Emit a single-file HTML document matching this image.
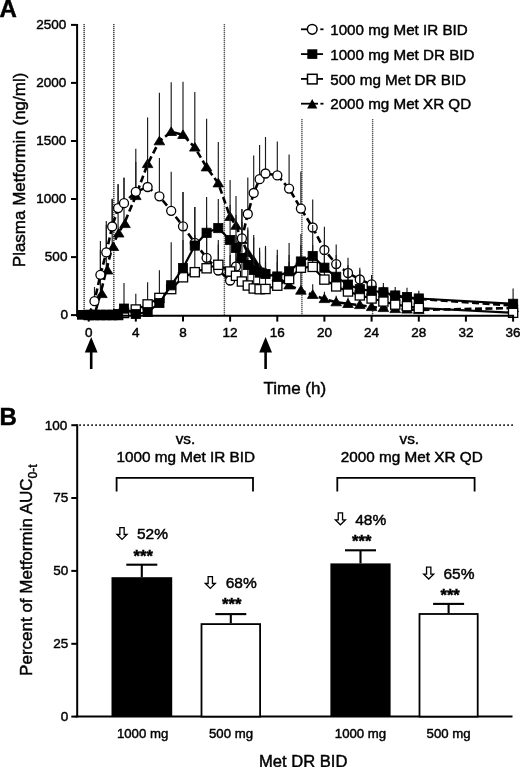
<!DOCTYPE html>
<html><head><meta charset="utf-8"><style>
html,body{margin:0;padding:0;background:#fff;}
body{width:520px;height:767px;overflow:hidden;position:relative;font-family:"Liberation Sans",sans-serif;}
svg{position:absolute;left:0;top:0;will-change:transform;}
text{font-family:"Liberation Sans",sans-serif;fill:#000;stroke:#000;stroke-width:0.45px;}
.ax{stroke:#000;stroke-width:2;fill:none;}
.eb{stroke:#1a1a1a;stroke-width:1.15;fill:none;}
.ebb{stroke:#000;stroke-width:2.1;fill:none;}
.dv{stroke:#3a3a3a;stroke-width:1.4;stroke-dasharray:1 1;fill:none;}
.dvb{stroke:#c4c4c4;stroke-width:1.2;fill:none;}
.dh{stroke:#2a2a2a;stroke-width:1.8;stroke-dasharray:1.8 2.2;fill:none;}
.ls{stroke:#000;stroke-width:2.2;fill:none;stroke-linejoin:round;}
.ld{stroke:#000;stroke-width:2.6;fill:none;stroke-dasharray:7 3.5;}
.mo{fill:#fff;stroke:#000;stroke-width:1.3;}
.mf{fill:#000;stroke:#000;stroke-width:0.8;}
.lgl{stroke:#000;stroke-width:1.8;}
.tl{font-size:13.5px;}
.tlb{font-size:13.5px;}
.lg{font-size:15.2px;}
.pct{font-size:15.5px;}
.ast{font-size:16.5px;font-weight:bold;}
.vs{font-size:15.3px;}
.bl{font-size:13.2px;}
.at{font-size:16.6px;}
.lab{font-size:24px;font-weight:bold;}
.yt{font-size:17px;}
</style></head><body>
<svg width="520" height="767" viewBox="0 0 520 767">
<text x="-0.6" y="16.7" class="lab">A</text>
<text x="-0.6" y="425.4" class="lab">B</text>
<text transform="translate(24.6,267.2) rotate(-90)" class="yt">Plasma Metformin (ng/ml)</text>
<text transform="translate(32.4,675.9) rotate(-90)" class="yt">Percent of Metformin AUC<tspan font-size="12" dy="5">0-t</tspan></text>
<text x="263.5" y="393.8" class="at" style="font-size:17px">Time (h)</text>
<line x1="84.15" y1="24" x2="84.15" y2="315" class="dvb"/>
<line x1="84.15" y1="24" x2="84.15" y2="315" class="dv"/>
<line x1="113.8" y1="24" x2="113.8" y2="315" class="dvb"/>
<line x1="113.8" y1="24" x2="113.8" y2="315" class="dv"/>
<line x1="224.4" y1="24" x2="224.4" y2="315" class="dvb"/>
<line x1="224.4" y1="24" x2="224.4" y2="315" class="dv" style="stroke:#5a5a5a"/>
<line x1="301.9" y1="119" x2="301.9" y2="315" class="dvb"/>
<line x1="301.9" y1="119" x2="301.9" y2="315" class="dv" style="stroke:#5a5a5a"/>
<line x1="372.6" y1="119" x2="372.6" y2="315" class="dvb"/>
<line x1="372.6" y1="119" x2="372.6" y2="315" class="dv" style="stroke:#5a5a5a"/>
<line x1="100.4" y1="250.0" x2="100.4" y2="294.0" class="eb"/>
<line x1="106.3" y1="225.0" x2="106.3" y2="270.4" class="eb"/>
<line x1="112.2" y1="198.8" x2="112.2" y2="246.9" class="eb"/>
<line x1="118.1" y1="184.4" x2="118.1" y2="233.4" class="eb"/>
<line x1="124.0" y1="177.4" x2="124.0" y2="224.0" class="eb"/>
<line x1="135.8" y1="148.8" x2="135.8" y2="196.0" class="eb"/>
<line x1="147.6" y1="117.4" x2="147.6" y2="164.0" class="eb"/>
<line x1="159.4" y1="92.7" x2="159.4" y2="141.2" class="eb"/>
<line x1="171.2" y1="82.3" x2="171.2" y2="131.9" class="eb"/>
<line x1="183.0" y1="81.8" x2="183.0" y2="134.9" class="eb"/>
<line x1="194.8" y1="92.0" x2="194.8" y2="147.5" class="eb"/>
<line x1="206.6" y1="118.8" x2="206.6" y2="167.3" class="eb"/>
<line x1="218.3" y1="142.0" x2="218.3" y2="183.3" class="eb"/>
<line x1="230.1" y1="180.0" x2="230.1" y2="216.8" class="eb"/>
<line x1="236.0" y1="196.0" x2="236.0" y2="225.7" class="eb"/>
<line x1="241.9" y1="209.0" x2="241.9" y2="240.0" class="eb"/>
<line x1="247.8" y1="227.6" x2="247.8" y2="253.0" class="eb"/>
<line x1="253.7" y1="237.8" x2="253.7" y2="260.9" class="eb"/>
<line x1="259.6" y1="251.4" x2="259.6" y2="268.7" class="eb"/>
<line x1="265.5" y1="248.0" x2="265.5" y2="272.6" class="eb"/>
<line x1="277.3" y1="255.0" x2="277.3" y2="277.0" class="eb"/>
<line x1="289.1" y1="262.0" x2="289.1" y2="285.3" class="eb"/>
<line x1="300.9" y1="270.0" x2="300.9" y2="290.6" class="eb"/>
<line x1="312.7" y1="284.2" x2="312.7" y2="294.8" class="eb"/>
<line x1="324.4" y1="291.7" x2="324.4" y2="299.0" class="eb"/>
<line x1="336.2" y1="295.8" x2="336.2" y2="302.2" class="eb"/>
<line x1="348.0" y1="297.5" x2="348.0" y2="303.9" class="eb"/>
<line x1="359.8" y1="299.0" x2="359.8" y2="305.0" class="eb"/>
<line x1="371.6" y1="301.0" x2="371.6" y2="307.0" class="eb"/>
<line x1="383.4" y1="302.0" x2="383.4" y2="308.0" class="eb"/>
<line x1="395.2" y1="303.0" x2="395.2" y2="309.0" class="eb"/>
<polyline points="88.7,315.0 94.5,315.0 100.4,294.0 106.3,270.4 112.2,246.9 118.1,233.4 124.0,224.0 135.8,196.0 147.6,164.0 159.4,141.2 171.2,131.9 183.0,134.9 194.8,147.5 206.6,167.3 218.3,183.3 230.1,216.8 236.0,225.7 241.9,240.0 247.8,253.0 253.7,260.9 259.6,268.7 265.5,272.6 277.3,277.0 289.1,285.3 300.9,290.6 312.7,294.8 324.4,299.0 336.2,302.2 348.0,303.9 359.8,305.0 371.6,307.0 383.4,308.0 395.2,309.0 407.0,309.5 418.8,310.0 513.1,308.0" class="ld"/>
<path d="M88.7,310.0 L94.0,318.6 L83.4,318.6Z" class="mf"/>
<path d="M94.5,310.0 L99.8,318.6 L89.2,318.6Z" class="mf"/>
<path d="M101.9,289.0 L107.2,297.6 L96.6,297.6Z" class="mf"/>
<path d="M107.5,265.4 L112.8,274.0 L102.2,274.0Z" class="mf"/>
<path d="M113.4,241.9 L118.7,250.5 L108.1,250.5Z" class="mf"/>
<path d="M118.7,228.4 L124.0,237.0 L113.4,237.0Z" class="mf"/>
<path d="M125.0,219.0 L130.3,227.6 L119.7,227.6Z" class="mf"/>
<path d="M135.8,191.0 L141.1,199.6 L130.5,199.6Z" class="mf"/>
<path d="M147.6,159.0 L152.9,167.6 L142.3,167.6Z" class="mf"/>
<path d="M159.4,136.2 L164.7,144.8 L154.1,144.8Z" class="mf"/>
<path d="M171.2,126.9 L176.5,135.5 L165.9,135.5Z" class="mf"/>
<path d="M183.0,129.9 L188.3,138.5 L177.7,138.5Z" class="mf"/>
<path d="M194.8,142.5 L200.1,151.1 L189.5,151.1Z" class="mf"/>
<path d="M206.6,162.3 L211.9,170.9 L201.2,170.9Z" class="mf"/>
<path d="M218.3,178.3 L223.6,186.9 L213.0,186.9Z" class="mf"/>
<path d="M230.1,211.8 L235.4,220.4 L224.8,220.4Z" class="mf"/>
<path d="M236.0,220.7 L241.3,229.3 L230.7,229.3Z" class="mf"/>
<path d="M241.9,235.0 L247.2,243.6 L236.6,243.6Z" class="mf"/>
<path d="M247.8,248.0 L253.1,256.6 L242.5,256.6Z" class="mf"/>
<path d="M253.7,255.9 L259.0,264.5 L248.4,264.5Z" class="mf"/>
<path d="M259.6,263.7 L264.9,272.3 L254.3,272.3Z" class="mf"/>
<path d="M265.5,267.6 L270.8,276.2 L260.2,276.2Z" class="mf"/>
<path d="M277.3,272.0 L282.6,280.6 L272.0,280.6Z" class="mf"/>
<path d="M289.1,280.3 L294.4,288.9 L283.8,288.9Z" class="mf"/>
<path d="M300.9,285.6 L306.2,294.2 L295.6,294.2Z" class="mf"/>
<path d="M312.7,289.8 L318.0,298.4 L307.4,298.4Z" class="mf"/>
<path d="M324.4,294.0 L329.8,302.6 L319.1,302.6Z" class="mf"/>
<path d="M336.2,297.2 L341.5,305.8 L330.9,305.8Z" class="mf"/>
<path d="M348.0,298.9 L353.3,307.5 L342.7,307.5Z" class="mf"/>
<path d="M359.8,300.0 L365.1,308.6 L354.5,308.6Z" class="mf"/>
<path d="M371.6,302.0 L376.9,310.6 L366.3,310.6Z" class="mf"/>
<path d="M383.4,303.0 L388.7,311.6 L378.1,311.6Z" class="mf"/>
<path d="M395.2,304.0 L400.5,312.6 L389.9,312.6Z" class="mf"/>
<path d="M407.0,304.5 L412.3,313.1 L401.7,313.1Z" class="mf"/>
<path d="M418.8,305.0 L424.1,313.6 L413.5,313.6Z" class="mf"/>
<path d="M513.1,303.0 L518.4,311.6 L507.8,311.6Z" class="mf"/>
<line x1="94.5" y1="287.0" x2="94.5" y2="301.2" class="eb"/>
<line x1="100.4" y1="241.0" x2="100.4" y2="274.8" class="eb"/>
<line x1="106.3" y1="221.0" x2="106.3" y2="252.4" class="eb"/>
<line x1="112.2" y1="199.0" x2="112.2" y2="226.5" class="eb"/>
<line x1="118.1" y1="184.0" x2="118.1" y2="208.1" class="eb"/>
<line x1="124.0" y1="178.0" x2="124.0" y2="203.2" class="eb"/>
<line x1="135.8" y1="162.0" x2="135.8" y2="191.8" class="eb"/>
<line x1="147.6" y1="160.0" x2="147.6" y2="187.0" class="eb"/>
<line x1="159.4" y1="158.0" x2="159.4" y2="196.3" class="eb"/>
<line x1="171.2" y1="171.7" x2="171.2" y2="210.8" class="eb"/>
<line x1="183.0" y1="192.0" x2="183.0" y2="226.3" class="eb"/>
<line x1="194.8" y1="207.0" x2="194.8" y2="242.8" class="eb"/>
<line x1="206.6" y1="225.0" x2="206.6" y2="257.8" class="eb"/>
<line x1="218.3" y1="240.0" x2="218.3" y2="270.5" class="eb"/>
<line x1="230.1" y1="255.0" x2="230.1" y2="280.5" class="eb"/>
<line x1="236.0" y1="235.0" x2="236.0" y2="266.5" class="eb"/>
<line x1="241.9" y1="209.0" x2="241.9" y2="238.4" class="eb"/>
<line x1="247.8" y1="177.4" x2="247.8" y2="214.0" class="eb"/>
<line x1="253.7" y1="155.5" x2="253.7" y2="193.0" class="eb"/>
<line x1="259.6" y1="145.0" x2="259.6" y2="179.2" class="eb"/>
<line x1="265.5" y1="137.0" x2="265.5" y2="173.5" class="eb"/>
<line x1="277.3" y1="141.5" x2="277.3" y2="175.4" class="eb"/>
<line x1="289.1" y1="154.6" x2="289.1" y2="188.6" class="eb"/>
<line x1="300.9" y1="171.5" x2="300.9" y2="208.6" class="eb"/>
<line x1="312.7" y1="199.6" x2="312.7" y2="227.5" class="eb"/>
<line x1="324.4" y1="226.7" x2="324.4" y2="250.0" class="eb"/>
<line x1="336.2" y1="244.5" x2="336.2" y2="264.1" class="eb"/>
<line x1="348.0" y1="257.8" x2="348.0" y2="273.0" class="eb"/>
<line x1="359.8" y1="267.7" x2="359.8" y2="279.5" class="eb"/>
<line x1="371.6" y1="275.0" x2="371.6" y2="284.4" class="eb"/>
<polyline points="88.7,315.0 94.5,301.2 100.4,274.8 106.3,252.4 112.2,226.5 118.1,208.1 124.0,203.2 135.8,191.8 147.6,187.0 159.4,196.3 171.2,210.8 183.0,226.3 194.8,242.8 206.6,257.8 218.3,270.5 230.1,280.5 236.0,266.5 241.9,238.4 247.8,214.0 253.7,193.0 259.6,179.2 265.5,173.5 277.3,175.4 289.1,188.6 300.9,208.6 312.7,227.5 324.4,250.0 336.2,264.1 348.0,273.0 359.8,279.5 371.6,284.4 383.4,292.5 395.2,296.0 407.0,297.5 418.8,299.0 513.1,305.5" class="ld"/>
<circle cx="94.5" cy="301.2" r="4.5" class="mo"/>
<circle cx="100.4" cy="274.8" r="4.5" class="mo"/>
<circle cx="106.3" cy="252.4" r="4.5" class="mo"/>
<circle cx="112.2" cy="226.5" r="4.5" class="mo"/>
<circle cx="118.1" cy="208.1" r="4.5" class="mo"/>
<circle cx="124.0" cy="203.2" r="4.5" class="mo"/>
<circle cx="135.8" cy="191.8" r="4.5" class="mo"/>
<circle cx="147.6" cy="187.0" r="4.5" class="mo"/>
<circle cx="159.4" cy="196.3" r="4.5" class="mo"/>
<circle cx="171.2" cy="210.8" r="4.5" class="mo"/>
<circle cx="183.0" cy="226.3" r="4.5" class="mo"/>
<circle cx="194.8" cy="242.8" r="4.5" class="mo"/>
<circle cx="206.6" cy="257.8" r="4.5" class="mo"/>
<circle cx="218.3" cy="270.5" r="4.5" class="mo"/>
<circle cx="230.1" cy="280.5" r="4.5" class="mo"/>
<circle cx="236.0" cy="266.5" r="4.5" class="mo"/>
<circle cx="241.9" cy="238.4" r="4.5" class="mo"/>
<circle cx="247.8" cy="214.0" r="4.5" class="mo"/>
<circle cx="253.7" cy="193.0" r="4.5" class="mo"/>
<circle cx="259.6" cy="179.2" r="4.5" class="mo"/>
<circle cx="265.5" cy="173.5" r="4.5" class="mo"/>
<circle cx="277.3" cy="175.4" r="4.5" class="mo"/>
<circle cx="289.1" cy="188.6" r="4.5" class="mo"/>
<circle cx="300.9" cy="208.6" r="4.5" class="mo"/>
<circle cx="312.7" cy="227.5" r="4.5" class="mo"/>
<circle cx="324.4" cy="250.0" r="4.5" class="mo"/>
<circle cx="336.2" cy="264.1" r="4.5" class="mo"/>
<circle cx="348.0" cy="273.0" r="4.5" class="mo"/>
<circle cx="359.8" cy="279.5" r="4.5" class="mo"/>
<circle cx="371.6" cy="284.4" r="4.5" class="mo"/>
<circle cx="383.4" cy="292.5" r="4.5" class="mo"/>
<circle cx="395.2" cy="296.0" r="4.5" class="mo"/>
<circle cx="407.0" cy="297.5" r="4.5" class="mo"/>
<circle cx="418.8" cy="299.0" r="4.5" class="mo"/>
<circle cx="513.1" cy="305.5" r="4.5" class="mo"/>
<line x1="135.8" y1="293.7" x2="135.8" y2="309.5" class="eb"/>
<line x1="147.6" y1="282.3" x2="147.6" y2="304.4" class="eb"/>
<line x1="159.4" y1="270.2" x2="159.4" y2="297.9" class="eb"/>
<line x1="171.2" y1="242.2" x2="171.2" y2="289.1" class="eb"/>
<line x1="183.0" y1="240.0" x2="183.0" y2="277.3" class="eb"/>
<line x1="194.8" y1="235.0" x2="194.8" y2="272.2" class="eb"/>
<line x1="206.6" y1="230.0" x2="206.6" y2="268.3" class="eb"/>
<line x1="218.3" y1="244.5" x2="218.3" y2="264.8" class="eb"/>
<line x1="230.1" y1="245.0" x2="230.1" y2="271.5" class="eb"/>
<line x1="236.0" y1="250.0" x2="236.0" y2="275.8" class="eb"/>
<line x1="241.9" y1="255.0" x2="241.9" y2="281.5" class="eb"/>
<line x1="247.8" y1="258.0" x2="247.8" y2="285.5" class="eb"/>
<line x1="253.7" y1="262.0" x2="253.7" y2="288.5" class="eb"/>
<line x1="259.6" y1="262.0" x2="259.6" y2="289.2" class="eb"/>
<line x1="265.5" y1="262.0" x2="265.5" y2="289.0" class="eb"/>
<line x1="277.3" y1="262.0" x2="277.3" y2="285.7" class="eb"/>
<line x1="289.1" y1="255.0" x2="289.1" y2="279.1" class="eb"/>
<line x1="300.9" y1="245.0" x2="300.9" y2="267.7" class="eb"/>
<line x1="312.7" y1="245.0" x2="312.7" y2="266.9" class="eb"/>
<line x1="324.4" y1="255.0" x2="324.4" y2="279.6" class="eb"/>
<line x1="336.2" y1="262.0" x2="336.2" y2="286.4" class="eb"/>
<line x1="348.0" y1="270.0" x2="348.0" y2="291.5" class="eb"/>
<line x1="359.8" y1="276.0" x2="359.8" y2="295.4" class="eb"/>
<line x1="371.6" y1="281.0" x2="371.6" y2="298.5" class="eb"/>
<line x1="383.4" y1="286.0" x2="383.4" y2="301.5" class="eb"/>
<line x1="395.2" y1="290.0" x2="395.2" y2="304.6" class="eb"/>
<line x1="407.0" y1="293.0" x2="407.0" y2="306.2" class="eb"/>
<line x1="418.8" y1="295.0" x2="418.8" y2="308.0" class="eb"/>
<line x1="513.1" y1="300.0" x2="513.1" y2="312.8" class="eb"/>
<polyline points="88.7,315.0 94.5,315.0 100.4,315.0 106.3,315.0 112.2,315.0 118.1,315.0 124.0,313.0 135.8,309.5 147.6,304.4 159.4,297.9 171.2,289.1 183.0,277.3 194.8,272.2 206.6,268.3 218.3,264.8 230.1,271.5 236.0,275.8 241.9,281.5 247.8,285.5 253.7,288.5 259.6,289.2 265.5,289.0 277.3,285.7 289.1,279.1 300.9,267.7 312.7,266.9 324.4,279.6 336.2,286.4 348.0,291.5 359.8,295.4 371.6,298.5 383.4,301.5 395.2,304.6 407.0,306.2 418.8,308.0 513.1,312.8" class="ls"/>
<rect x="84.1" y="310.4" width="9.2" height="9.2" class="mo"/>
<rect x="89.9" y="310.4" width="9.2" height="9.2" class="mo"/>
<rect x="95.8" y="310.4" width="9.2" height="9.2" class="mo"/>
<rect x="101.7" y="310.4" width="9.2" height="9.2" class="mo"/>
<rect x="107.6" y="310.4" width="9.2" height="9.2" class="mo"/>
<rect x="113.5" y="310.4" width="9.2" height="9.2" class="mo"/>
<rect x="119.4" y="308.4" width="9.2" height="9.2" class="mo"/>
<rect x="131.2" y="304.9" width="9.2" height="9.2" class="mo"/>
<rect x="143.0" y="299.8" width="9.2" height="9.2" class="mo"/>
<rect x="154.8" y="293.3" width="9.2" height="9.2" class="mo"/>
<rect x="166.6" y="284.5" width="9.2" height="9.2" class="mo"/>
<rect x="178.4" y="272.7" width="9.2" height="9.2" class="mo"/>
<rect x="190.2" y="267.6" width="9.2" height="9.2" class="mo"/>
<rect x="202.0" y="263.7" width="9.2" height="9.2" class="mo"/>
<rect x="213.7" y="260.2" width="9.2" height="9.2" class="mo"/>
<rect x="225.5" y="266.9" width="9.2" height="9.2" class="mo"/>
<rect x="231.4" y="271.2" width="9.2" height="9.2" class="mo"/>
<rect x="237.3" y="276.9" width="9.2" height="9.2" class="mo"/>
<rect x="243.2" y="280.9" width="9.2" height="9.2" class="mo"/>
<rect x="249.1" y="283.9" width="9.2" height="9.2" class="mo"/>
<rect x="255.0" y="284.6" width="9.2" height="9.2" class="mo"/>
<rect x="260.9" y="284.4" width="9.2" height="9.2" class="mo"/>
<rect x="272.7" y="281.1" width="9.2" height="9.2" class="mo"/>
<rect x="284.5" y="274.5" width="9.2" height="9.2" class="mo"/>
<rect x="296.3" y="263.1" width="9.2" height="9.2" class="mo"/>
<rect x="308.1" y="262.3" width="9.2" height="9.2" class="mo"/>
<rect x="319.8" y="275.0" width="9.2" height="9.2" class="mo"/>
<rect x="331.6" y="281.8" width="9.2" height="9.2" class="mo"/>
<rect x="343.4" y="286.9" width="9.2" height="9.2" class="mo"/>
<rect x="355.2" y="290.8" width="9.2" height="9.2" class="mo"/>
<rect x="367.0" y="293.9" width="9.2" height="9.2" class="mo"/>
<rect x="378.8" y="296.9" width="9.2" height="9.2" class="mo"/>
<rect x="390.6" y="300.0" width="9.2" height="9.2" class="mo"/>
<rect x="402.4" y="301.6" width="9.2" height="9.2" class="mo"/>
<rect x="414.2" y="303.4" width="9.2" height="9.2" class="mo"/>
<rect x="508.5" y="308.2" width="9.2" height="9.2" class="mo"/>
<line x1="124.0" y1="283.0" x2="124.0" y2="308.6" class="eb"/>
<line x1="183.0" y1="192.0" x2="183.0" y2="268.0" class="eb"/>
<line x1="194.8" y1="207.0" x2="194.8" y2="245.6" class="eb"/>
<line x1="206.6" y1="197.0" x2="206.6" y2="232.8" class="eb"/>
<line x1="218.3" y1="199.0" x2="218.3" y2="228.1" class="eb"/>
<line x1="230.1" y1="205.0" x2="230.1" y2="240.0" class="eb"/>
<line x1="236.0" y1="215.0" x2="236.0" y2="248.0" class="eb"/>
<line x1="241.9" y1="222.0" x2="241.9" y2="258.0" class="eb"/>
<line x1="247.8" y1="230.0" x2="247.8" y2="265.0" class="eb"/>
<line x1="253.7" y1="235.0" x2="253.7" y2="270.0" class="eb"/>
<line x1="259.6" y1="247.8" x2="259.6" y2="272.6" class="eb"/>
<line x1="265.5" y1="245.9" x2="265.5" y2="274.0" class="eb"/>
<line x1="277.3" y1="249.8" x2="277.3" y2="276.5" class="eb"/>
<line x1="289.1" y1="243.0" x2="289.1" y2="271.3" class="eb"/>
<line x1="300.9" y1="234.0" x2="300.9" y2="261.5" class="eb"/>
<line x1="312.7" y1="225.0" x2="312.7" y2="256.0" class="eb"/>
<line x1="324.4" y1="240.0" x2="324.4" y2="267.7" class="eb"/>
<line x1="336.2" y1="255.0" x2="336.2" y2="276.8" class="eb"/>
<line x1="348.0" y1="265.0" x2="348.0" y2="284.6" class="eb"/>
<line x1="359.8" y1="270.0" x2="359.8" y2="289.2" class="eb"/>
<line x1="371.6" y1="275.0" x2="371.6" y2="290.8" class="eb"/>
<line x1="383.4" y1="283.0" x2="383.4" y2="292.3" class="eb"/>
<line x1="395.2" y1="287.0" x2="395.2" y2="295.5" class="eb"/>
<line x1="407.0" y1="287.7" x2="407.0" y2="297.0" class="eb"/>
<line x1="418.8" y1="290.8" x2="418.8" y2="298.5" class="eb"/>
<line x1="513.1" y1="288.5" x2="513.1" y2="303.8" class="eb"/>
<polyline points="88.7,315.0 94.5,315.0 100.4,315.0 106.3,315.0 112.2,315.0 118.1,314.0 124.0,308.6 135.8,314.0 147.6,312.0 159.4,303.0 171.2,285.3 183.0,268.0 194.8,245.6 206.6,232.8 218.3,228.1 230.1,240.0 236.0,248.0 241.9,258.0 247.8,265.0 253.7,270.0 259.6,272.6 265.5,274.0 277.3,276.5 289.1,271.3 300.9,261.5 312.7,256.0 324.4,267.7 336.2,276.8 348.0,284.6 359.8,289.2 371.6,290.8 383.4,292.3 395.2,295.5 407.0,297.0 418.8,298.5 513.1,303.8" class="ls"/>
<rect x="84.1" y="310.4" width="9.2" height="9.2" class="mf"/>
<rect x="89.9" y="310.4" width="9.2" height="9.2" class="mf"/>
<rect x="95.8" y="310.4" width="9.2" height="9.2" class="mf"/>
<rect x="101.7" y="310.4" width="9.2" height="9.2" class="mf"/>
<rect x="107.6" y="310.4" width="9.2" height="9.2" class="mf"/>
<rect x="113.5" y="309.4" width="9.2" height="9.2" class="mf"/>
<rect x="119.4" y="304.0" width="9.2" height="9.2" class="mf"/>
<rect x="131.2" y="309.4" width="9.2" height="9.2" class="mf"/>
<rect x="143.0" y="307.4" width="9.2" height="9.2" class="mf"/>
<rect x="154.8" y="298.4" width="9.2" height="9.2" class="mf"/>
<rect x="166.6" y="280.7" width="9.2" height="9.2" class="mf"/>
<rect x="178.4" y="263.4" width="9.2" height="9.2" class="mf"/>
<rect x="190.2" y="241.0" width="9.2" height="9.2" class="mf"/>
<rect x="202.0" y="228.2" width="9.2" height="9.2" class="mf"/>
<rect x="213.7" y="223.5" width="9.2" height="9.2" class="mf"/>
<rect x="225.5" y="235.4" width="9.2" height="9.2" class="mf"/>
<rect x="231.4" y="243.4" width="9.2" height="9.2" class="mf"/>
<rect x="237.3" y="253.4" width="9.2" height="9.2" class="mf"/>
<rect x="243.2" y="260.4" width="9.2" height="9.2" class="mf"/>
<rect x="249.1" y="265.4" width="9.2" height="9.2" class="mf"/>
<rect x="255.0" y="268.0" width="9.2" height="9.2" class="mf"/>
<rect x="260.9" y="269.4" width="9.2" height="9.2" class="mf"/>
<rect x="272.7" y="271.9" width="9.2" height="9.2" class="mf"/>
<rect x="284.5" y="266.7" width="9.2" height="9.2" class="mf"/>
<rect x="296.3" y="256.9" width="9.2" height="9.2" class="mf"/>
<rect x="308.1" y="251.4" width="9.2" height="9.2" class="mf"/>
<rect x="319.8" y="263.1" width="9.2" height="9.2" class="mf"/>
<rect x="331.6" y="272.2" width="9.2" height="9.2" class="mf"/>
<rect x="343.4" y="280.0" width="9.2" height="9.2" class="mf"/>
<rect x="355.2" y="284.6" width="9.2" height="9.2" class="mf"/>
<rect x="367.0" y="286.2" width="9.2" height="9.2" class="mf"/>
<rect x="378.8" y="287.7" width="9.2" height="9.2" class="mf"/>
<rect x="390.6" y="290.9" width="9.2" height="9.2" class="mf"/>
<rect x="402.4" y="292.4" width="9.2" height="9.2" class="mf"/>
<rect x="414.2" y="293.9" width="9.2" height="9.2" class="mf"/>
<rect x="508.5" y="299.2" width="9.2" height="9.2" class="mf"/>
<rect x="77" y="310" width="43.6" height="9.7" fill="#000"/>
<line x1="77.1" y1="24" x2="77.1" y2="316.6" class="ax"/>
<line x1="76.2" y1="315.7" x2="514" y2="315.7" class="ax"/>
<line x1="71" y1="24.9" x2="77" y2="24.9" class="ax"/>
<text x="66.2" y="29.1" class="tl" text-anchor="end">2500</text>
<line x1="71" y1="82.9" x2="77" y2="82.9" class="ax"/>
<text x="66.2" y="87.1" class="tl" text-anchor="end">2000</text>
<line x1="71" y1="141.0" x2="77" y2="141.0" class="ax"/>
<text x="66.2" y="145.2" class="tl" text-anchor="end">1500</text>
<line x1="71" y1="199.0" x2="77" y2="199.0" class="ax"/>
<text x="66.2" y="203.2" class="tl" text-anchor="end">1000</text>
<line x1="71" y1="257.1" x2="77" y2="257.1" class="ax"/>
<text x="67.4" y="261.3" class="tl" text-anchor="end">500</text>
<line x1="71" y1="315.1" x2="77" y2="315.1" class="ax"/>
<text x="68.0" y="319.3" class="tl" text-anchor="end">0</text>
<line x1="88.7" y1="315" x2="88.7" y2="321.6" class="ax"/>
<text x="88.7" y="337.2" class="tl" text-anchor="middle">0</text>
<line x1="135.8" y1="315" x2="135.8" y2="321.6" class="ax"/>
<text x="135.8" y="337.2" class="tl" text-anchor="middle">4</text>
<line x1="183.0" y1="315" x2="183.0" y2="321.6" class="ax"/>
<text x="183.0" y="337.2" class="tl" text-anchor="middle">8</text>
<line x1="230.1" y1="315" x2="230.1" y2="321.6" class="ax"/>
<text x="230.1" y="337.2" class="tl" text-anchor="middle">12</text>
<line x1="277.3" y1="315" x2="277.3" y2="321.6" class="ax"/>
<text x="277.3" y="337.2" class="tl" text-anchor="middle">16</text>
<line x1="324.4" y1="315" x2="324.4" y2="321.6" class="ax"/>
<text x="324.4" y="337.2" class="tl" text-anchor="middle">20</text>
<line x1="371.6" y1="315" x2="371.6" y2="321.6" class="ax"/>
<text x="371.6" y="337.2" class="tl" text-anchor="middle">24</text>
<line x1="418.8" y1="315" x2="418.8" y2="321.6" class="ax"/>
<text x="418.8" y="337.2" class="tl" text-anchor="middle">28</text>
<line x1="465.9" y1="315" x2="465.9" y2="321.6" class="ax"/>
<text x="465.9" y="337.2" class="tl" text-anchor="middle">32</text>
<line x1="513.1" y1="315" x2="513.1" y2="321.6" class="ax"/>
<text x="513.1" y="337.2" class="tl" text-anchor="middle">36</text>
<path d="M91.2,337 L97.60000000000001,352.5 L84.8,352.5Z" fill="#000"/>
<rect x="89.9" y="352" width="2.6" height="17" fill="#000"/>
<path d="M265.6,337 L272.0,352.5 L259.20000000000005,352.5Z" fill="#000"/>
<rect x="264.3" y="352" width="2.6" height="17" fill="#000"/>
<line x1="301" y1="29.3" x2="307" y2="29.3" class="lgl"/>
<line x1="320.3" y1="29.3" x2="323.5" y2="29.3" class="lgl"/>
<circle cx="312.2" cy="29.3" r="4.85" fill="#fff" stroke="#000" stroke-width="1.5"/>
<text x="330.2" y="34.9" class="lg">1000 mg Met IR BID</text>
<line x1="301" y1="54.1" x2="323" y2="54.1" class="lgl"/>
<rect x="307.3" y="49.3" width="10" height="9.6" fill="#000"/>
<text x="330.2" y="59.7" class="lg">1000 mg Met DR BID</text>
<line x1="301" y1="78.9" x2="323" y2="78.9" class="lgl"/>
<rect x="307.5" y="74.30000000000001" width="9.6" height="9.6" fill="#fff" stroke="#000" stroke-width="1.5"/>
<text x="330.2" y="84.5" class="lg">500 mg Met DR BID</text>
<line x1="301" y1="103.7" x2="318" y2="103.7" class="lgl"/>
<line x1="320.4" y1="103.7" x2="323.5" y2="103.7" class="lgl"/>
<path d="M312.2,99.1 L317.3,108.6 L307.1,108.6Z" fill="#000"/>
<text x="330.2" y="109.3" class="lg">2000 mg Met XR QD</text>
<line x1="79.2" y1="425.2" x2="514" y2="425.2" class="dh"/>
<line x1="77.2" y1="424.2" x2="77.2" y2="717.2" class="ax"/>
<line x1="75.6" y1="716.6" x2="512.5" y2="716.6" class="ax"/>
<line x1="71.3" y1="425.2" x2="77.2" y2="425.2" class="ax"/>
<text x="67.3" y="429.6" class="tlb" text-anchor="end">100</text>
<line x1="71.3" y1="498.0" x2="77.2" y2="498.0" class="ax"/>
<text x="68.3" y="502.4" class="tlb" text-anchor="end">75</text>
<line x1="71.3" y1="570.9" x2="77.2" y2="570.9" class="ax"/>
<text x="68.3" y="575.3" class="tlb" text-anchor="end">50</text>
<line x1="71.3" y1="643.8" x2="77.2" y2="643.8" class="ax"/>
<text x="68.3" y="648.1" class="tlb" text-anchor="end">25</text>
<line x1="71.3" y1="716.6" x2="77.2" y2="716.6" class="ax"/>
<text x="68.3" y="721.0" class="tlb" text-anchor="end">0</text>
<line x1="141.8" y1="564.7" x2="141.8" y2="577.2" class="ebb"/>
<line x1="126.3" y1="564.7" x2="157.3" y2="564.7" class="ebb"/>
<rect x="111.5" y="577.2" width="60.7" height="139.4" fill="#000"/>
<line x1="230.8" y1="614.1" x2="230.8" y2="623.2" class="ebb"/>
<line x1="215.3" y1="614.1" x2="246.3" y2="614.1" class="ebb"/>
<rect x="201.5" y="624.1" width="58.6" height="92.5" fill="#fff" stroke="#000" stroke-width="1.8"/>
<line x1="360.5" y1="550.3" x2="360.5" y2="563.4" class="ebb"/>
<line x1="345.0" y1="550.3" x2="376.0" y2="550.3" class="ebb"/>
<rect x="330.4" y="563.4" width="60.2" height="153.2" fill="#000"/>
<line x1="448.6" y1="603.9" x2="448.6" y2="613.1" class="ebb"/>
<line x1="433.1" y1="603.9" x2="464.1" y2="603.9" class="ebb"/>
<rect x="419.5" y="614.0" width="58.2" height="102.6" fill="#fff" stroke="#000" stroke-width="1.8"/>
<path d="M119.85,527.55 L124.15,527.55 L124.15,534.50 L127.00,534.50 L122.00,539.40 L117.00,534.50 L119.85,534.50Z" fill="#fff" stroke="#000" stroke-width="1.3" stroke-linejoin="miter"/>
<text x="137.0" y="538.9" class="pct">52%</text>
<text x="133.6" y="561.5" class="ast">***</text>
<path d="M208.15,576.55 L212.45,576.55 L212.45,583.50 L215.30,583.50 L210.30,588.40 L205.30,583.50 L208.15,583.50Z" fill="#fff" stroke="#000" stroke-width="1.3" stroke-linejoin="miter"/>
<text x="225.7" y="587.9" class="pct">68%</text>
<text x="222.1" y="610.4" class="ast">***</text>
<path d="M338.25,512.95 L342.55,512.95 L342.55,519.90 L345.40,519.90 L340.40,524.80 L335.40,519.90 L338.25,519.90Z" fill="#fff" stroke="#000" stroke-width="1.3" stroke-linejoin="miter"/>
<text x="355.2" y="524.7" class="pct">48%</text>
<text x="352.1" y="546.8" class="ast">***</text>
<path d="M426.55,567.15 L430.85,567.15 L430.85,574.10 L433.70,574.10 L428.70,579.00 L423.70,574.10 L426.55,574.10Z" fill="#fff" stroke="#000" stroke-width="1.3" stroke-linejoin="miter"/>
<text x="443.4" y="578.5" class="pct">65%</text>
<text x="440.5" y="600.9" class="ast">***</text>
<path d="M116.6,491.5 L116.6,477.8 L253,477.8 L253,491.5" fill="none" stroke="#000" stroke-width="1.8"/>
<path d="M337.3,491.5 L337.3,477.8 L474.6,477.8 L474.6,491.5" fill="none" stroke="#000" stroke-width="1.8"/>
<text x="185.5" y="444.2" class="vs" text-anchor="middle">vs.</text>
<text x="185.7" y="462" class="vs" text-anchor="middle">1000 mg Met IR BID</text>
<text x="409.3" y="444.2" class="vs" text-anchor="middle">vs.</text>
<text x="411.8" y="462" class="vs" text-anchor="middle">2000 mg Met XR QD</text>
<text x="142.6" y="738.3" class="bl" text-anchor="middle">1000 mg</text>
<text x="231" y="738.3" class="bl" text-anchor="middle">500 mg</text>
<text x="360.5" y="738.3" class="bl" text-anchor="middle">1000 mg</text>
<text x="448.6" y="738.3" class="bl" text-anchor="middle">500 mg</text>
<text x="303.2" y="766.6" class="at" text-anchor="middle">Met DR BID</text>
</svg>
</body></html>
